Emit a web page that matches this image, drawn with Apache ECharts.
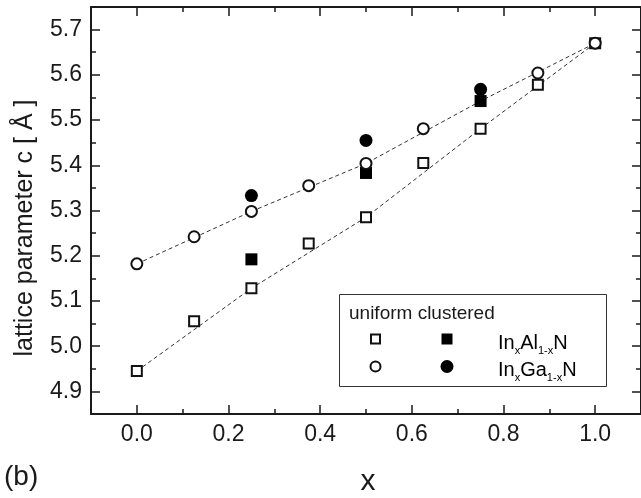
<!DOCTYPE html>
<html>
<head>
<meta charset="utf-8">
<script src="https://cdn.jsdelivr.net/npm/echarts@6/dist/echarts.min.js"></script>
<style>
  html, body { margin: 0; padding: 0; background: #fff; }
  #chart { width: 641px; height: 498px; }
</style>
</head>
<body>
<div id="chart"></div>
<script>
// Indium fraction x of the supercells
const xUniformAl = [0, 0.125, 0.25, 0.375, 0.5, 0.625, 0.75, 0.875, 1.0];
const xUniformGa = [0, 0.125, 0.25, 0.375, 0.5, 0.625, 0.875, 1.0];
const xClustered = [0.25, 0.5, 0.75];

// Lattice parameter c (Angstrom)
const cInAlNUniform = [4.945, 5.055, 5.128, 5.227, 5.285, 5.405, 5.481, 5.578, 5.670];
const cInGaNUniform = [5.182, 5.242, 5.298, 5.355, 5.404, 5.481, 5.604, 5.670];
const cInAlNClustered = [5.192, 5.383, 5.542];
const cInGaNClustered = [5.333, 5.455, 5.568];

// Dashed guide curves
const xGuide = [0, 0.25, 0.5, 0.75, 1.0];
const cInAlNGuide = [4.945, 5.128, 5.285, 5.481, 5.670];
const cInGaNGuide = [5.182, 5.298, 5.404, 5.542, 5.670];

// Axis ticks
const xMajorTicks = [0, 0.2, 0.4, 0.6, 0.8, 1.0];
const xMinorTicks = [0.1, 0.3, 0.5, 0.7, 0.9];
const yMajorTicks = [4.9, 5.0, 5.1, 5.2, 5.3, 5.4, 5.5, 5.6, 5.7];
const yMinorTicks = [4.95, 5.05, 5.15, 5.25, 5.35, 5.45, 5.55, 5.65];

const X_MIN = -0.1, X_MAX = 1.1, Y_MIN = 4.85, Y_MAX = 5.75;
const INK = '#1a1a1a';
const FONT = '"Liberation Sans", Arial, sans-serif';

const pairs = (xs, ys) => xs.map((x, i) => [x, ys[i]]);

function tickAxis(kind, position, ticks, len, withLine, withLabels) {
  const isX = kind === 'x';
  return {
    type: 'value',
    position: position,
    min: isX ? X_MIN : Y_MIN,
    max: isX ? X_MAX : Y_MAX,
    splitLine: { show: false },
    axisLine: { show: withLine, onZero: false, lineStyle: { color: INK, width: 2 } },
    axisTick: { show: true, inside: true, length: len, customValues: ticks,
                lineStyle: { color: INK, width: 1.5 } },
    axisLabel: withLabels ? {
      show: true, customValues: ticks, margin: 9,
      color: INK, fontFamily: FONT, fontSize: 23,
      formatter: v => Number(v).toFixed(1)
    } : { show: false }
  };
}

const chart = echarts.init(document.getElementById('chart'), null, { renderer: 'canvas' });

const legendX = 339, legendY = 294;
const richText = {
  m: { fontSize: 20, fontFamily: FONT, color: INK, lineHeight: 26, verticalAlign: 'middle' },
  s: { fontSize: 11, fontFamily: FONT, color: INK, lineHeight: 11, verticalAlign: 'bottom' }
};

chart.setOption({
  animation: false,
  backgroundColor: '#fff',
  grid: { left: 91, top: 7, right: -3, bottom: 84, containLabel: false },
  xAxis: [
    tickAxis('x', 'bottom', xMajorTicks, 9, true, true),
    tickAxis('x', 'bottom', xMinorTicks, 5, false, false),
    tickAxis('x', 'top', xMajorTicks, 9, true, false),
    tickAxis('x', 'top', xMinorTicks, 5, false, false)
  ],
  yAxis: [
    tickAxis('y', 'left', yMajorTicks, 9, true, true),
    tickAxis('y', 'left', yMinorTicks, 5, false, false),
    tickAxis('y', 'right', yMajorTicks, 9, true, false),
    tickAxis('y', 'right', yMinorTicks, 5, false, false)
  ],
  series: [
    {
      type: 'line', data: pairs(xGuide, cInAlNGuide), symbol: 'none', silent: true,
      lineStyle: { color: '#333', width: 1, type: [4, 3] }, z: 1
    },
    {
      type: 'line', data: pairs(xGuide, cInGaNGuide), symbol: 'none', silent: true,
      lineStyle: { color: '#333', width: 1, type: [4, 3] }, z: 1
    },
    {
      name: 'InAlN uniform', type: 'scatter', data: pairs(xUniformAl, cInAlNUniform),
      symbol: 'rect', symbolSize: 10,
      itemStyle: { color: '#fff', borderColor: '#111', borderWidth: 2, opacity: 1 }, z: 2
    },
    {
      name: 'InAlN clustered', type: 'scatter', data: pairs(xClustered, cInAlNClustered),
      symbol: 'rect', symbolSize: 12,
      itemStyle: { color: '#000', borderWidth: 0, opacity: 1 }, z: 3
    },
    {
      name: 'InGaN uniform', type: 'scatter', data: pairs(xUniformGa, cInGaNUniform),
      symbol: 'circle', symbolSize: 11,
      itemStyle: { color: '#fff', borderColor: '#111', borderWidth: 2, opacity: 1 }, z: 4
    },
    {
      name: 'InGaN clustered', type: 'scatter', data: pairs(xClustered, cInGaNClustered),
      symbol: 'circle', symbolSize: 13,
      itemStyle: { color: '#000', borderWidth: 0, opacity: 1 }, z: 5
    }
  ],
  graphic: [
    // axis titles and panel tag
    { type: 'text', x: 25, y: 228, rotation: Math.PI / 2,
      style: { text: 'lattice parameter c [ Å ]', font: '25px ' + FONT, fill: INK,
               align: 'center', verticalAlign: 'middle' } },
    { type: 'text', x: 368, y: 482, style: { text: 'x', font: '30px ' + FONT, fill: INK,
      align: 'center', verticalAlign: 'middle' } },
    { type: 'text', x: 4, y: 477, style: { text: '(b)', font: '28px ' + FONT, fill: INK,
      align: 'left', verticalAlign: 'middle' } },
    // legend box
    { type: 'rect', shape: { x: legendX + 0.5, y: legendY + 0.5, width: 267, height: 92 },
      style: { fill: '#fff', stroke: '#333', lineWidth: 1 }, z: 10 },
    { type: 'text', x: 349, y: 314, z: 11,
      style: { text: 'uniform clustered', font: '19px ' + FONT, fill: INK,
               align: 'left', verticalAlign: 'middle' } },
    { type: 'rect', shape: { x: 371, y: 334.5, width: 9, height: 9 }, z: 11,
      style: { fill: '#fff', stroke: '#111', lineWidth: 2 } },
    { type: 'rect', shape: { x: 441.5, y: 333.5, width: 11, height: 11 }, z: 11,
      style: { fill: '#000' } },
    { type: 'circle', shape: { cx: 375.5, cy: 366.5, r: 5 }, z: 11,
      style: { fill: '#fff', stroke: '#111', lineWidth: 2 } },
    { type: 'circle', shape: { cx: 447, cy: 366.5, r: 6.5 }, z: 11,
      style: { fill: '#000' } },
    { type: 'text', x: 498, y: 343, z: 11,
      style: { text: '{m|In}{s|x}{m|Al}{s|1-x}{m|N}', rich: richText,
               align: 'left', verticalAlign: 'middle' } },
    { type: 'text', x: 498, y: 370, z: 11,
      style: { text: '{m|In}{s|x}{m|Ga}{s|1-x}{m|N}', rich: richText,
               align: 'left', verticalAlign: 'middle' } }
  ]
});
</script>
</body>
</html>
